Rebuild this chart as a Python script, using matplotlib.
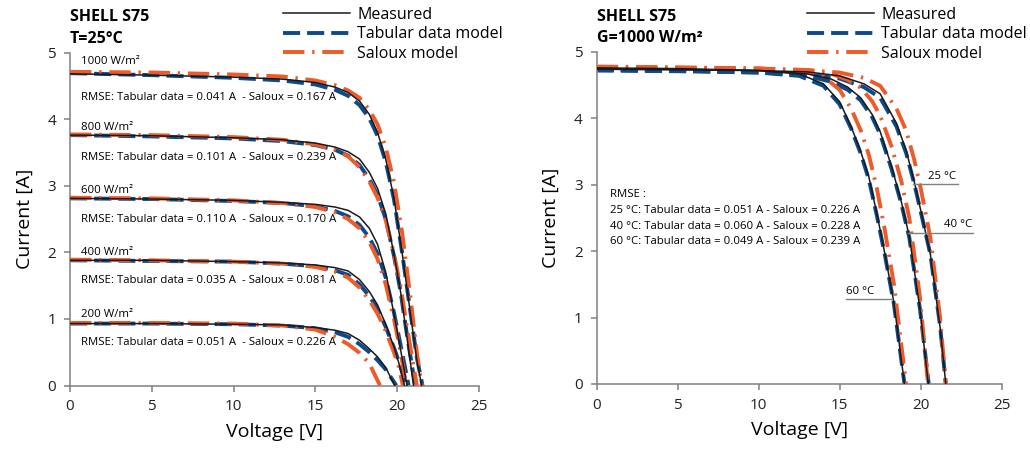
import matplotlib
matplotlib.use("Agg")
import matplotlib.pyplot as plt

plt.rcParams['font.family'] = ['Open Sans', 'DejaVu Sans']

# ---- left panel: irradiance series at T=25 C (voltage [V], current [A]) ----
v_g1000_meas = [0, 5, 10, 13, 15, 16.2, 17.0, 17.7, 18.3, 18.8, 19.3, 19.8, 20.3, 20.8, 21.2, 21.5]
i_g1000_meas = [4.68, 4.66, 4.63, 4.60, 4.55, 4.48, 4.40, 4.27, 4.07, 3.80, 3.40, 2.82, 2.00, 1.10, 0.38, 0.0]
v_g1000_tab = [0, 5, 10, 13, 15, 16.2, 17.0, 17.7, 18.3, 18.8, 19.3, 19.8, 20.3, 20.8, 21.2, 21.55]
i_g1000_tab = [4.69, 4.66, 4.62, 4.58, 4.52, 4.44, 4.35, 4.21, 4.01, 3.75, 3.36, 2.80, 2.00, 1.12, 0.42, 0.0]
v_g1000_sal = [0, 5, 10, 13, 15, 16.2, 17.0, 17.7, 18.3, 18.8, 19.3, 19.8, 20.3, 20.8, 21.2, 21.5]
i_g1000_sal = [4.71, 4.70, 4.67, 4.64, 4.58, 4.51, 4.43, 4.32, 4.14, 3.92, 3.58, 3.06, 2.30, 1.35, 0.50, 0.0]

v_g800_meas = [0, 5, 10, 13, 15, 16.2, 17.0, 17.7, 18.3, 18.8, 19.3, 19.8, 20.2, 20.6, 21.0]
i_g800_meas = [3.76, 3.75, 3.72, 3.69, 3.64, 3.58, 3.51, 3.40, 3.20, 2.96, 2.58, 1.98, 1.42, 0.72, 0.0]
v_g800_tab = [0, 5, 10, 13, 15, 16.2, 17.0, 17.7, 18.3, 18.8, 19.3, 19.8, 20.2, 20.6, 21.1]
i_g800_tab = [3.76, 3.74, 3.71, 3.67, 3.61, 3.54, 3.45, 3.31, 3.10, 2.86, 2.50, 1.95, 1.42, 0.76, 0.0]
v_g800_sal = [0, 5, 10, 13, 15, 16.2, 17.0, 17.7, 18.3, 18.8, 19.3, 19.8, 20.2, 20.6, 21.2]
i_g800_sal = [3.77, 3.76, 3.73, 3.69, 3.62, 3.54, 3.44, 3.28, 3.06, 2.82, 2.48, 1.98, 1.50, 0.88, 0.0]

v_g600_meas = [0, 5, 10, 13, 15, 16.2, 17.0, 17.7, 18.3, 18.8, 19.3, 19.8, 20.2, 20.6]
i_g600_meas = [2.81, 2.80, 2.78, 2.75, 2.72, 2.68, 2.63, 2.53, 2.36, 2.12, 1.70, 1.08, 0.55, 0.0]
v_g600_tab = [0, 5, 10, 13, 15, 16.2, 17.0, 17.7, 18.3, 18.8, 19.3, 19.8, 20.2, 20.7]
i_g600_tab = [2.81, 2.80, 2.77, 2.74, 2.69, 2.62, 2.54, 2.41, 2.22, 1.98, 1.62, 1.10, 0.62, 0.0]
v_g600_sal = [0, 5, 10, 13, 15, 16.2, 17.0, 17.7, 18.3, 18.8, 19.3, 19.8, 20.2, 20.55]
i_g600_sal = [2.82, 2.81, 2.78, 2.74, 2.68, 2.60, 2.50, 2.36, 2.15, 1.90, 1.52, 1.00, 0.52, 0.0]

v_g400_meas = [0, 5, 10, 13, 15, 16.2, 17.0, 17.7, 18.3, 18.8, 19.3, 19.8, 20.1, 20.45]
i_g400_meas = [1.88, 1.88, 1.86, 1.84, 1.81, 1.77, 1.72, 1.59, 1.41, 1.21, 0.92, 0.58, 0.34, 0.0]
v_g400_tab = [0, 5, 10, 13, 15, 16.2, 17.0, 17.7, 18.3, 18.8, 19.3, 19.8, 20.1, 20.55]
i_g400_tab = [1.88, 1.87, 1.86, 1.83, 1.79, 1.73, 1.66, 1.52, 1.34, 1.15, 0.88, 0.57, 0.36, 0.0]
v_g400_sal = [0, 5, 10, 13, 15, 16.2, 17.0, 17.7, 18.3, 18.8, 19.3, 19.8, 20.1, 20.35]
i_g400_sal = [1.89, 1.88, 1.86, 1.83, 1.78, 1.71, 1.62, 1.47, 1.28, 1.08, 0.82, 0.50, 0.28, 0.0]

v_g200_meas = [0, 5, 10, 13, 15, 16.2, 17.0, 17.7, 18.3, 18.8, 19.3, 19.85]
i_g200_meas = [0.93, 0.93, 0.92, 0.91, 0.87, 0.83, 0.78, 0.68, 0.55, 0.43, 0.27, 0.0]
v_g200_tab = [0, 5, 10, 13, 15, 16.2, 17.0, 17.7, 18.3, 18.8, 19.3, 19.95]
i_g200_tab = [0.93, 0.93, 0.92, 0.90, 0.86, 0.80, 0.73, 0.62, 0.50, 0.38, 0.24, 0.0]
v_g200_sal = [0, 5, 10, 13, 15, 16.2, 17.0, 17.7, 18.3, 18.95]
i_g200_sal = [0.94, 0.94, 0.93, 0.90, 0.84, 0.73, 0.62, 0.49, 0.33, 0.0]

irr_labels = ["1000 W/m²", "800 W/m²", "600 W/m²", "400 W/m²", "200 W/m²"]
irr_rmse = ["RMSE: Tabular data = 0.041 A  - Saloux = 0.167 A",
            "RMSE: Tabular data = 0.101 A  - Saloux = 0.239 A",
            "RMSE: Tabular data = 0.110 A  - Saloux = 0.170 A",
            "RMSE: Tabular data = 0.035 A  - Saloux = 0.081 A",
            "RMSE: Tabular data = 0.051 A  - Saloux = 0.226 A"]

# ---- right panel: temperature series at G=1000 W/m2 ----
v_t25_meas = [0, 5, 10, 13, 15, 16.5, 17.5, 18.5, 19.1, 19.6, 20.0, 20.6, 21.2, 21.55]
i_t25_meas = [4.74, 4.73, 4.72, 4.70, 4.64, 4.52, 4.37, 3.93, 3.52, 3.05, 2.62, 1.95, 0.85, 0.0]
v_t25_tab = [0, 5, 10, 13, 15, 16.5, 17.5, 18.5, 19.1, 19.6, 20.0, 20.6, 21.2, 21.55]
i_t25_tab = [4.72, 4.71, 4.69, 4.66, 4.60, 4.47, 4.31, 3.88, 3.48, 3.02, 2.60, 1.95, 0.87, 0.0]
v_t25_sal = [0, 5, 10, 13, 15, 16.5, 17.5, 18.5, 19.1, 19.6, 20.0, 20.6, 21.2, 21.55]
i_t25_sal = [4.77, 4.76, 4.75, 4.73, 4.69, 4.61, 4.49, 4.15, 3.82, 3.38, 2.95, 2.20, 1.00, 0.0]

v_t40_meas = [0, 5, 10, 13, 14.5, 15.5, 16.3, 17.0, 17.5, 18.2, 18.8, 19.3, 19.96, 20.47]
i_t40_meas = [4.75, 4.74, 4.72, 4.67, 4.59, 4.47, 4.31, 4.06, 3.80, 3.28, 2.75, 2.22, 1.12, 0.0]
v_t40_tab = [0, 5, 10, 13, 14.5, 15.5, 16.3, 17.0, 17.5, 18.2, 18.8, 19.3, 19.96, 20.5]
i_t40_tab = [4.73, 4.72, 4.70, 4.64, 4.55, 4.43, 4.27, 4.02, 3.76, 3.24, 2.72, 2.20, 1.12, 0.0]
v_t40_sal = [0, 5, 10, 13, 14.5, 15.5, 16.3, 17.0, 17.5, 18.2, 18.8, 19.3, 19.96, 20.45]
i_t40_sal = [4.77, 4.76, 4.75, 4.72, 4.67, 4.58, 4.46, 4.26, 4.04, 3.58, 3.06, 2.50, 1.30, 0.0]

v_t60_meas = [0, 5, 10, 12.5, 14.0, 15.0, 15.7, 16.3, 16.8, 17.3, 17.8, 18.35, 19.0]
i_t60_meas = [4.76, 4.75, 4.72, 4.67, 4.52, 4.25, 3.88, 3.50, 3.12, 2.56, 1.95, 1.22, 0.0]
v_t60_tab = [0, 5, 10, 12.5, 14.0, 15.0, 15.7, 16.3, 16.8, 17.3, 17.8, 18.35, 19.0]
i_t60_tab = [4.73, 4.72, 4.69, 4.64, 4.49, 4.21, 3.85, 3.47, 3.08, 2.53, 1.93, 1.20, 0.0]
v_t60_sal = [0, 5, 10, 12.5, 14.0, 15.0, 15.7, 16.3, 16.8, 17.3, 17.8, 18.35, 19.1]
i_t60_sal = [4.78, 4.77, 4.75, 4.72, 4.63, 4.43, 4.15, 3.82, 3.45, 2.94, 2.30, 1.50, 0.0]

temp_rmse = ["RMSE :",
             "25 °C: Tabular data = 0.051 A - Saloux = 0.226 A",
             "40 °C: Tabular data = 0.060 A - Saloux = 0.228 A",
             "60 °C: Tabular data = 0.049 A - Saloux = 0.239 A"]

BLUE = "#0d4a8a"
ORANGE = "#f05a28"
GREY = "#808080"


def draw_set(ax, vm, im, vt, it, vs, is_):
    ax.plot(vt, it, color=BLUE, lw=2.8, dashes=(4.4, 1.8), zorder=2,
            label="Tabular data model")
    ax.plot(vs, is_, color=ORANGE, lw=2.8, dashes=(5.5, 2.0, 0.6, 2.0), zorder=3,
            label="Saloux model")
    ax.plot(vm, im, color="#1a1a1a", lw=1.1, zorder=4, label="Measured")


def style_axes(ax):
    ax.set_xlim(0, 25)
    ax.set_ylim(0, 5)
    ax.set_xticks([0, 5, 10, 15, 20, 25])
    ax.set_yticks([0, 1, 2, 3, 4, 5])
    for s in ["top", "right"]:
        ax.spines[s].set_visible(False)
    for s in ["left", "bottom"]:
        ax.spines[s].set_color(GREY)
        ax.spines[s].set_linewidth(1.1)
    ax.tick_params(length=4, width=1.1, color=GREY, labelsize=11, labelcolor="#222222", pad=6)
    ax.set_xlabel("Voltage [V]", fontsize=14, labelpad=6)
    ax.set_ylabel("Current [A]", fontsize=14, labelpad=10)


def add_legend(ax, xfig):
    h, l = ax.get_legend_handles_labels()
    order = [2, 0, 1]
    ax.legend([h[k] for k in order], [l[k] for k in order], loc="upper left",
              bbox_to_anchor=(xfig, 0.985), bbox_transform=ax.figure.transFigure,
              frameon=False, fontsize=11.5, handlelength=4.2, handletextpad=0.45,
              labelspacing=0.22, borderpad=0, borderaxespad=0)


fig = plt.figure(figsize=(10.3, 4.5), dpi=100)
ax1 = fig.add_axes([0.068, 0.1433, 0.397, 0.74])
ax2 = fig.add_axes([0.5793, 0.1467, 0.3932, 0.7378])

draw_set(ax1, v_g1000_meas, i_g1000_meas, v_g1000_tab, i_g1000_tab, v_g1000_sal, i_g1000_sal)
draw_set(ax1, v_g800_meas, i_g800_meas, v_g800_tab, i_g800_tab, v_g800_sal, i_g800_sal)
draw_set(ax1, v_g600_meas, i_g600_meas, v_g600_tab, i_g600_tab, v_g600_sal, i_g600_sal)
draw_set(ax1, v_g400_meas, i_g400_meas, v_g400_tab, i_g400_tab, v_g400_sal, i_g400_sal)
draw_set(ax1, v_g200_meas, i_g200_meas, v_g200_tab, i_g200_tab, v_g200_sal, i_g200_sal)
style_axes(ax1)
add_legend(ax1, 0.2748)

ax1.text(0, 5.53, "SHELL S75", fontsize=11.5, fontweight="bold", va="center", ha="left")
ax1.text(0, 5.21, "T=25°C", fontsize=11.5, fontweight="bold", va="center", ha="left")
label_y = [4.86, 3.88, 2.93, 2.00, 1.07]
rmse_y = [4.33, 3.42, 2.50, 1.57, 0.65]
for lab, y in zip(irr_labels, label_y):
    ax1.text(0.7, y, lab, fontsize=8.2, va="center", ha="left")
for txt, y in zip(irr_rmse, rmse_y):
    ax1.text(0.7, y, txt, fontsize=8.2, va="center", ha="left")

draw_set(ax2, v_t25_meas, i_t25_meas, v_t25_tab, i_t25_tab, v_t25_sal, i_t25_sal)
draw_set(ax2, v_t40_meas, i_t40_meas, v_t40_tab, i_t40_tab, v_t40_sal, i_t40_sal)
draw_set(ax2, v_t60_meas, i_t60_meas, v_t60_tab, i_t60_tab, v_t60_sal, i_t60_sal)
style_axes(ax2)
add_legend(ax2, 0.7833)

ax2.text(0, 5.53, "SHELL S75", fontsize=11.5, fontweight="bold", va="center", ha="left")
ax2.text(0, 5.21, "G=1000 W/m²", fontsize=11.5, fontweight="bold", va="center", ha="left")
for txt, y in zip(temp_rmse, [2.86, 2.61, 2.37, 2.14]):
    ax2.text(0.8, y, txt, fontsize=8.2, va="center", ha="left")

# temperature call-outs
ax2.plot([19.5, 22.3], [3.01, 3.01], color=GREY, lw=1.0, zorder=5)
ax2.text(22.2, 3.13, "25 °C", fontsize=8.2, va="center", ha="right")
ax2.plot([19.24, 23.25], [2.28, 2.28], color=GREY, lw=1.0, zorder=5)
ax2.text(23.2, 2.40, "40 °C", fontsize=8.2, va="center", ha="right")
ax2.plot([15.4, 18.2], [1.28, 1.28], color=GREY, lw=1.0, zorder=5)
ax2.text(15.4, 1.39, "60 °C", fontsize=8.2, va="center", ha="left")

fig.savefig("out.png", dpi=100)
